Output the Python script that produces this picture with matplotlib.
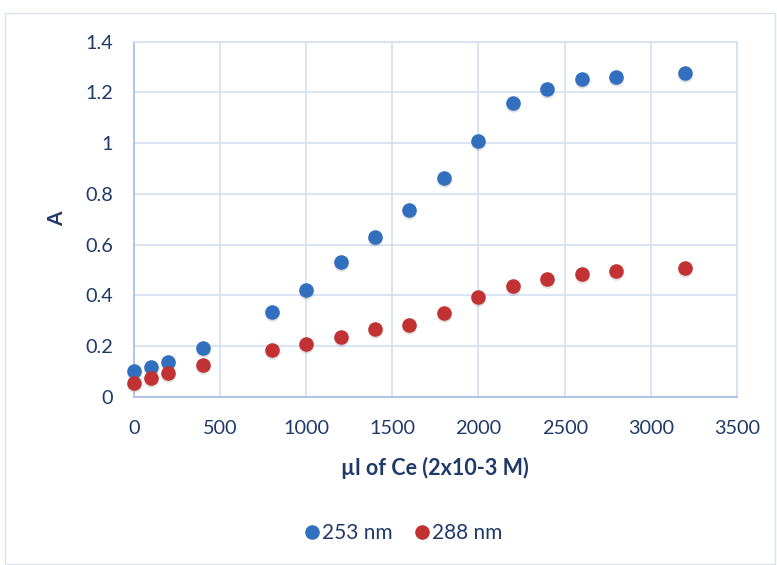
import matplotlib
matplotlib.use("Agg")
import matplotlib.pyplot as plt
from matplotlib.patches import Rectangle

x_vals = [0, 100, 200, 400, 800, 1000, 1200, 1400, 1600, 1800, 2000, 2200, 2400, 2600, 2800, 3200]
a_253 = [0.103, 0.116, 0.137, 0.191, 0.333, 0.421, 0.530, 0.631, 0.736, 0.861, 1.010, 1.160, 1.215, 1.252, 1.262, 1.278]
a_288 = [0.055, 0.075, 0.095, 0.124, 0.183, 0.207, 0.234, 0.266, 0.282, 0.329, 0.392, 0.438, 0.463, 0.483, 0.495, 0.509]
series_names = ["253 nm", "288 nm"]
x_ticks = [0, 500, 1000, 1500, 2000, 2500, 3000, 3500]
y_ticks = [0, 0.2, 0.4, 0.6, 0.8, 1.0, 1.2, 1.4]
y_tick_labels = ["0", "0.2", "0.4", "0.6", "0.8", "1", "1.2", "1.4"]

plt.rcParams['font.family'] = ['Lato', 'DejaVu Sans']
text_color = "#1f3a68"
grid_color = "#d6e2f3"

fig = plt.figure(figsize=(7.77, 5.65), dpi=100)
fig.patches.append(Rectangle((5/777, 0.002), 0.998 - 5/777, 1 - 12.7/565 - 0.002,
                             transform=fig.transFigure, fill=False,
                             edgecolor="#d9e2ef", linewidth=1.0))
ax = fig.add_axes([133.7/777, 1 - 396.7/565, (737 - 133.7)/777, (396.7 - 41.7)/565])

colors = ["#3270bf", "#c23232"]
for ys, name, c in zip([a_253, a_288], series_names, colors):
    # soft shadow
    ax.plot(x_vals, [v - 0.008 for v in ys], linestyle="none", marker="o",
            markersize=10.5, color="#000000", alpha=0.12, markeredgewidth=0,
            zorder=2, clip_on=False)
    ax.plot(x_vals, ys, linestyle="none", marker="o", markersize=10.5,
            color=c, markeredgewidth=0, label=name, zorder=3, clip_on=False)

ax.set_xlim(0, 3500)
ax.set_ylim(0, 1.4)
ax.set_xticks(x_ticks)
ax.set_yticks(y_ticks)
ax.set_yticklabels(y_tick_labels)
ax.grid(True, color=grid_color, linewidth=1.3)
ax.set_axisbelow(True)
for s in ["top", "right"]:
    ax.spines[s].set_color(grid_color)
    ax.spines[s].set_linewidth(1.3)
for s in ["left", "bottom"]:
    ax.spines[s].set_color("#a9c1e6")
    ax.spines[s].set_linewidth(1.3)
ax.tick_params(length=0, labelsize=14.3, colors=text_color)
ax.tick_params(axis="x", pad=17)
ax.tick_params(axis="y", pad=15)

ax.set_xlabel("µl of Ce (2x10-3 M)", fontsize=15.5, fontweight="bold", color=text_color, labelpad=14)
ax.set_ylabel("A", fontsize=15, fontweight="bold", color=text_color, labelpad=13)

leg = fig.legend(loc="center", bbox_to_anchor=(0.516, 1 - 533/565), ncol=2, frameon=False,
                 fontsize=15, handletextpad=-0.1, columnspacing=0.8, markerscale=1.0,
                 handlelength=1.2)
for t in leg.get_texts():
    t.set_color(text_color)

fig.savefig("out.png", dpi=100)
